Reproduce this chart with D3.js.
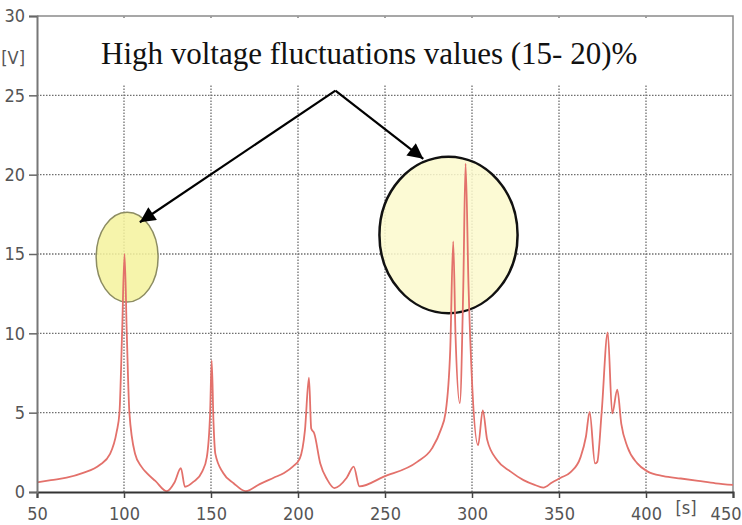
<!DOCTYPE html>
<html>
<head>
<meta charset="utf-8">
<script src="https://cdn.jsdelivr.net/npm/d3@7/dist/d3.min.js"></script>
<style>
  html, body { margin: 0; padding: 0; background: #ffffff; }
  svg { display: block; }
</style>
</head>
<body>
<svg id="chart" width="742" height="525"></svg>
<script>
// ---- Data ----
const timeS = [50, 58, 67, 76.5, 86, 92, 95.8, 97.4, 98.9, 100.3, 101.6, 103.1, 106.4, 110, 113, 118, 124.6,
  129, 132.7, 135, 140, 145, 147.6, 149.5, 150.4, 151.4, 152.5, 157, 163, 170,
  178, 186, 192, 197, 201, 204, 206.3, 207.6, 209.3, 212.8, 216.7, 220.9, 228, 232, 235.3,
  249, 268.5, 277, 282, 284.8, 287.5, 289.2, 290.5, 293, 295, 296.3, 298, 300, 303.5, 306.2, 308.7,
  314.5, 322, 329.6, 336, 341, 346, 351, 356.7, 362.4, 365.5, 367.6, 370.7, 372, 374.5, 378,
  380.6, 383.5, 385.8, 389.3, 395, 400.8, 410, 420, 430, 440, 450];
const voltageV = [0.6, 0.75, 0.9, 1.2, 1.7, 2.4, 3.8, 5.0, 10, 15.0, 10, 5.0, 2.4, 1.6, 1.2, 0.7, 0.05,
  0.6, 1.5, 0.33, 0.65, 1.3, 2.2, 5.0, 8.3, 4.5, 2.4, 1.2, 0.55, 0.05,
  0.5, 0.9, 1.2, 1.6, 2.1, 3.9, 7.2, 4.0, 3.7, 1.8, 0.8, 0.25, 0.9, 1.6, 0.35,
  0.95, 1.9, 2.75, 3.9, 5.0, 9.0, 15.8, 10, 5.6, 13, 20.7, 13, 7, 2.95, 5.15, 3.3,
  2.0, 1.3, 0.75, 0.45, 0.28, 0.6, 0.9, 1.25, 2.2, 3.5, 5.05, 1.8, 1.9, 5.0, 10.06,
  4.95, 6.45, 4.3, 2.85, 1.8, 1.3, 1.0, 0.85, 0.7, 0.55, 0.45];

const xTicks = [50, 100, 150, 200, 250, 300, 350, 400, 450];
const yTicks = [0, 5, 10, 15, 20, 25, 30];
const xUnit = "[s]";
const yUnit = "[V]";
const annotationText = "High voltage fluctuations values (15- 20)%";
// highlighted regions: [centerX, centerY, radiusX, radiusY] in data units
const highlightA = [101.8, 14.8, 17.8, 2.83];
const highlightB = [286.5, 16.2, 39.7, 4.93];
// arrows: common origin and two tips (data units)
const arrowOrigin = [221.5, 25.3];
const arrowTips = [[109.1, 17.0], [272.0, 21.0]];

(function () {
// ---- Layout ----
const svg = d3.select("#chart");
const mL = 37, mR = 733, mT = 16, mB = 492;
const x = d3.scaleLinear().domain([50, 450]).range([mL, mR]);
const y = d3.scaleLinear().domain([0, 30]).range([mB, mT]);

const tickFont = "'Liberation Sans Narrow', 'DejaVu Sans Condensed', 'Arial Narrow', sans-serif";

// grid
const grid = svg.append("g");
grid.selectAll("line.v").data(xTicks.filter(d => d > 50 && d < 450)).join("line")
  .attr("x1", d => x(d)).attr("x2", d => x(d))
  .attr("y1", y(0)).attr("y2", y(30))
  .attr("stroke", "#6f6f6f").attr("stroke-width", 1.3).attr("stroke-dasharray", "1.5,1.5");
grid.selectAll("line.h").data(yTicks.filter(d => d > 0 && d < 30)).join("line")
  .attr("x1", x(50)).attr("x2", x(450))
  .attr("y1", d => y(d)).attr("y2", d => y(d))
  .attr("stroke", "#6f6f6f").attr("stroke-width", 1.3).attr("stroke-dasharray", "1.5,1.5");

// white text box covering upper grid
svg.append("rect").attr("x", mL + 2).attr("y", mT + 2)
  .attr("width", mR - mL - 4).attr("height", 66).attr("fill", "#ffffff");

// frame (top & right)
svg.append("path")
  .attr("d", `M${mL},${mT}H${mR}V${mB}`)
  .attr("fill", "none").attr("stroke", "#8a8a8a").attr("stroke-width", 1.5);

// ellipses
svg.append("ellipse")
  .attr("cx", x(highlightA[0])).attr("cy", y(highlightA[1]))
  .attr("rx", x(highlightA[0] + highlightA[2]) - x(highlightA[0]))
  .attr("ry", y(highlightA[1]) - y(highlightA[1] + highlightA[3]))
  .attr("fill", "#f4f29c").attr("fill-opacity", 0.85)
  .attr("stroke", "#8c8c62").attr("stroke-width", 1.5);
svg.append("ellipse")
  .attr("cx", x(highlightB[0])).attr("cy", y(highlightB[1]))
  .attr("rx", x(highlightB[0] + highlightB[2]) - x(highlightB[0]))
  .attr("ry", y(highlightB[1]) - y(highlightB[1] + highlightB[3]))
  .attr("fill", "#fcf9cc").attr("fill-opacity", 0.85)
  .attr("stroke", "#111111").attr("stroke-width", 2.5);

// data line
const data = timeS.map((t, i) => [t, voltageV[i]]);
svg.append("path").datum(data)
  .attr("d", d3.line().curve(d3.curveMonotoneX).x(d => x(d[0])).y(d => y(d[1])))
  .attr("fill", "none").attr("stroke", "#e3716b").attr("stroke-width", 1.8)
  .attr("stroke-linejoin", "round");

// axes
const xAxis = d3.axisBottom(x).tickValues(xTicks).tickSize(6).tickPadding(6);
const gx = svg.append("g").attr("transform", `translate(0,${mB})`).call(xAxis);
gx.select(".domain").attr("stroke", "#333").attr("stroke-width", 2);
gx.selectAll(".tick line").attr("stroke", "#444").attr("stroke-width", 1.5);
gx.selectAll(".tick text").attr("font-family", tickFont).attr("font-size", 18).attr("fill", "#555")
  .attr("y", 15).attr("dy", "0.71em");
// keep the last label inside the canvas
gx.selectAll(".tick text").filter(d => d === 450).attr("text-anchor", "end").attr("x", 8);

const yAxis = d3.axisLeft(y).tickValues(yTicks).tickSize(8).tickPadding(4);
const gy = svg.append("g").attr("transform", `translate(${mL},0)`).call(yAxis);
gy.select(".domain").attr("stroke", "#777").attr("stroke-width", 2);
gy.selectAll(".tick line").attr("stroke", "#666").attr("stroke-width", 1.5);
gy.selectAll(".tick text").attr("font-family", tickFont).attr("font-size", 18).attr("fill", "#555")
  .attr("x", -12);

// units
svg.append("text").attr("x", 25).attr("y", 64).attr("text-anchor", "end")
  .attr("font-family", tickFont).attr("font-size", 18).attr("fill", "#555").text(yUnit);
svg.append("text").attr("x", 686).attr("y", 514).attr("text-anchor", "middle")
  .attr("font-family", tickFont).attr("font-size", 18).attr("fill", "#555").text(xUnit);

// annotation text
svg.append("text").attr("x", 101).attr("y", 63.5)
  .attr("font-family", "'Liberation Serif', 'Times New Roman', serif").attr("font-size", 31)
  .attr("fill", "#111").text(annotationText);

// arrows
const defs = svg.append("defs");
defs.append("marker").attr("id", "arrow").attr("viewBox", "0 0 10 10")
  .attr("refX", 10).attr("refY", 5).attr("markerWidth", 8).attr("markerHeight", 7)
  .attr("markerUnits", "strokeWidth").attr("orient", "auto")
  .append("path").attr("d", "M0,0L10,5L0,10Z").attr("fill", "#000");
arrowTips.forEach(tip => {
  svg.append("line")
    .attr("x1", x(arrowOrigin[0])).attr("y1", y(arrowOrigin[1]))
    .attr("x2", x(tip[0])).attr("y2", y(tip[1]))
    .attr("stroke", "#000").attr("stroke-width", 2.2)
    .attr("marker-end", "url(#arrow)");
});
})();
</script>
</body>
</html>
